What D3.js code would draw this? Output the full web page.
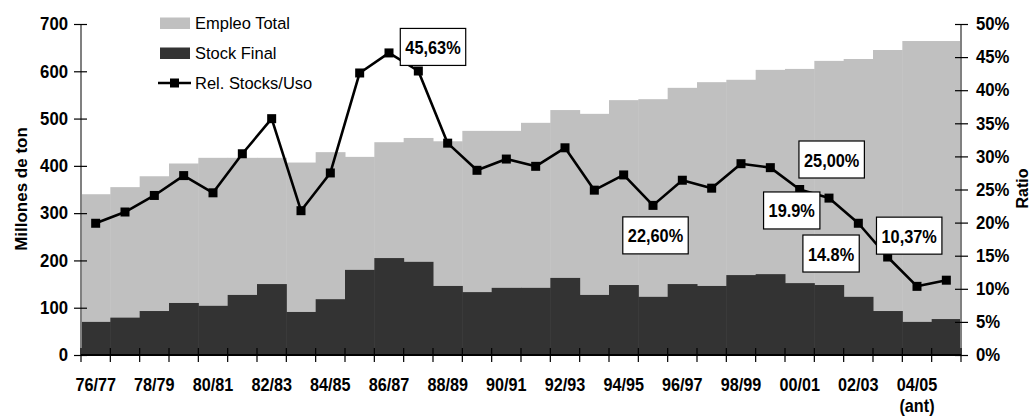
<!DOCTYPE html>
<html>
<head>
<meta charset="utf-8">
<script src="https://cdn.jsdelivr.net/npm/d3@7"></script>
<style>
  html, body { margin: 0; padding: 0; background: #fff; }
  svg { display: block; }
  text { font-family: "Liberation Sans", Arial, sans-serif; fill: #000; }
</style>
</head>
<body>
<svg id="chart" width="1031" height="419"></svg>
<script>
// Campañas (seasons)
const categories = ["76/77","77/78","78/79","79/80","80/81","81/82","82/83","83/84","84/85","85/86",
  "86/87","87/88","88/89","89/90","90/91","91/92","92/93","93/94","94/95","95/96",
  "96/97","97/98","98/99","99/00","00/01","01/02","02/03","03/04","04/05","05/06"];
// Empleo total (millones de ton)
const empleoTotal = [340,355,378,405,417,417,417,407,429,419,450,459,452,474,474,491,518,510,539,541,
  565,577,582,603,605,622,626,645,664,664];
// Stock final (millones de ton)
const stockFinal = [70,79,93,110,104,127,150,91,118,180,205,197,146,133,142,142,163,127,148,123,
  150,146,169,171,152,148,123,93,70,76];
// Relación stocks/uso (%)
const relStocksUso = [19.9,21.6,24.1,27.1,24.5,30.4,35.7,21.8,27.5,42.6,45.63,42.9,32.0,27.9,29.6,28.5,
  31.3,24.9,27.2,22.60,26.4,25.2,28.9,28.3,25.00,23.7,19.9,14.8,10.37,11.3];
// Etiquetas de valor
const labelSeasons = ["86/87","95/96","00/01","02/03","03/04","04/05"];
const labelTexts = ["45,63%","22,60%","25,00%","19.9%","14.8%","10,37%"];
const leftTicks = [0,100,200,300,400,500,600,700];
const rightTicks = [0,5,10,15,20,25,30,35,40,45,50];
const xTickLabels = ["76/77","78/79","80/81","82/83","84/85","86/87","88/89","90/91","92/93","94/95","96/97","98/99","00/01","02/03","04/05"];

const svg = d3.select("#chart");
const plotLeft = 81, plotRight = 961, plotTop = 24, plotBottom = 355;
const FONT = "'Liberation Sans', Arial, sans-serif";

// Estrecha horizontalmente un texto alrededor de su punto de anclaje
function condense(sel, k) {
  sel.each(function () {
    const t = d3.select(this);
    const tx = +t.attr("x") || 0, ty = +t.attr("y") || 0;
    const prev = t.attr("transform") || "";
    t.attr("x", 0).attr("y", 0).attr("transform", `${prev} translate(${tx},${ty}) scale(${k},1)`);
  });
}

const x = d3.scaleBand().domain(categories).range([plotLeft, plotRight]).padding(0);
const yL = d3.scaleLinear().domain([0, 700]).range([plotBottom, plotTop]);
const yR = d3.scaleLinear().domain([0, 50]).range([plotBottom, plotTop]);

// Barras: empleo total detrás, stock final delante
svg.append("g").selectAll("rect").data(categories).join("rect")
  .attr("x", d => x(d)).attr("width", x.bandwidth() + 0.5)
  .attr("y", (d, i) => yL(empleoTotal[i]))
  .attr("height", (d, i) => yL(0) - yL(empleoTotal[i]))
  .attr("fill", "#c0c0c0");
svg.append("g").selectAll("rect").data(categories).join("rect")
  .attr("x", d => x(d)).attr("width", x.bandwidth() + 0.5)
  .attr("y", (d, i) => yL(stockFinal[i]))
  .attr("height", (d, i) => yL(0) - yL(stockFinal[i]))
  .attr("fill", "#333333");

// Ejes
const tickFont = "bold 18px " + FONT;

const gL = svg.append("g").attr("transform", `translate(${plotLeft},0)`)
  .call(d3.axisLeft(yL).tickValues(leftTicks).tickSize(6).tickPadding(6));
gL.select(".domain").attr("stroke", "#808080").attr("stroke-width", 2).attr("d", `M0,${plotTop}V${plotBottom}`);
gL.selectAll(".tick line").attr("x1", 6).attr("x2", -7).attr("stroke", "#000").attr("stroke-width", 1.2);
gL.selectAll(".tick text").style("font", tickFont).attr("x", -13);
condense(gL.selectAll(".tick text"), 0.93);

const gR = svg.append("g").attr("transform", `translate(${plotRight},0)`)
  .call(d3.axisRight(yR).tickValues(rightTicks).tickFormat(d => d + "%").tickSize(6).tickPadding(6));
gR.select(".domain").attr("stroke", "#808080").attr("stroke-width", 2).attr("d", `M0,${plotTop}V${plotBottom}`);
gR.selectAll(".tick line").attr("x1", -6).attr("x2", 7).attr("stroke", "#000").attr("stroke-width", 1.2);
gR.selectAll(".tick text").style("font", tickFont).attr("x", 15);
condense(gR.selectAll(".tick text"), 0.93);

const xEdges = d3.scaleLinear().domain([0, categories.length]).range([plotLeft, plotRight]);
const gB = svg.append("g");
gB.selectAll("line").data(d3.range(categories.length + 1)).join("line")
  .attr("x1", d => xEdges(d)).attr("x2", d => xEdges(d))
  .attr("y1", plotBottom - 7).attr("y2", plotBottom + 7)
  .attr("stroke", "#000").attr("stroke-width", 1.2);
gB.append("line").attr("x1", plotLeft).attr("x2", plotRight).attr("y1", plotBottom).attr("y2", plotBottom)
  .attr("stroke", "#000").attr("stroke-width", 2);
const gX = svg.append("g").attr("transform", `translate(0,${plotBottom})`)
  .call(d3.axisBottom(x).tickValues(xTickLabels).tickSize(0).tickPadding(23));
gX.select(".domain").remove();
gX.selectAll(".tick text").style("font", "bold 18px " + FONT);
condense(gX.selectAll(".tick text"), 0.9);
const ant = svg.append("text").attr("x", x("04/05") + x.bandwidth() / 2).attr("y", 412)
  .attr("text-anchor", "middle").style("font", "bold 18px " + FONT)
  .text("(ant)");
condense(ant, 0.9);

// Títulos de ejes
svg.append("text").attr("transform", `translate(27,189) rotate(-90)`)
  .attr("text-anchor", "middle").style("font", "bold 17px " + FONT)
  .text("Millones de ton");
svg.append("text").attr("transform", `translate(1027.5,188.5) rotate(-90)`)
  .attr("text-anchor", "middle").style("font", "bold 16px " + FONT)
  .text("Ratio");

// Línea de relación stocks/uso
const cx = d => x(d) + x.bandwidth() / 2;
svg.append("path").datum(categories)
  .attr("fill", "none").attr("stroke", "#000").attr("stroke-width", 2.6).attr("stroke-linejoin", "round")
  .attr("d", d3.line().x(d => cx(d)).y((d, i) => yR(relStocksUso[i])));
svg.append("g").selectAll("rect").data(categories).join("rect")
  .attr("x", d => cx(d) - 4.5).attr("y", (d, i) => yR(relStocksUso[i]) - 4.5)
  .attr("width", 9).attr("height", 9).attr("fill", "#000");

// Cajas de etiquetas (desplazamiento del centro respecto al punto)
const labelOffsets = [[44, -6], [2.5, 30], [32, -30], [-66.6, -12.8], [-56.6, -3.5], [-7.8, -50.7]];
const labelFont = "bold 19px " + FONT;
const labelK = 0.86;
labelSeasons.forEach((s, k) => {
  const i = categories.indexOf(s);
  const px = cx(s), py = yR(relStocksUso[i]);
  const bx = px + labelOffsets[k][0], by = py + labelOffsets[k][1];
  const g = svg.append("g");
  const rect = g.append("rect").attr("fill", "#fff").attr("stroke", "#000").attr("stroke-width", 1.2);
  const t = g.append("text").attr("x", bx).attr("y", by + 7).attr("text-anchor", "middle")
    .style("font", labelFont).text(labelTexts[k]);
  const w = t.node().getComputedTextLength() * labelK + 10;
  condense(t, labelK);
  rect.attr("x", bx - w / 2).attr("y", by - 18.5).attr("width", w).attr("height", 37);
});

// Leyenda
const legendFont = "17px " + FONT;
const lg = svg.append("g");
lg.append("rect").attr("x", 160).attr("y", 17.5).attr("width", 30).attr("height", 11.5).attr("fill", "#c0c0c0");
lg.append("rect").attr("x", 160).attr("y", 47.5).attr("width", 30).attr("height", 11.5).attr("fill", "#333333");
lg.append("line").attr("x1", 158).attr("x2", 191).attr("y1", 83).attr("y2", 83).attr("stroke", "#000").attr("stroke-width", 2.6);
lg.append("rect").attr("x", 170).attr("y", 78.5).attr("width", 9).attr("height", 9).attr("fill", "#000");
[["Empleo Total", 29], ["Stock Final", 58.5], ["Rel. Stocks/Uso", 88.5]].forEach(([t, yy]) => {
  const tt = lg.append("text").attr("x", 195).attr("y", yy).style("font", legendFont).text(t);
  condense(tt, 0.97);
});
</script>
</body>
</html>
